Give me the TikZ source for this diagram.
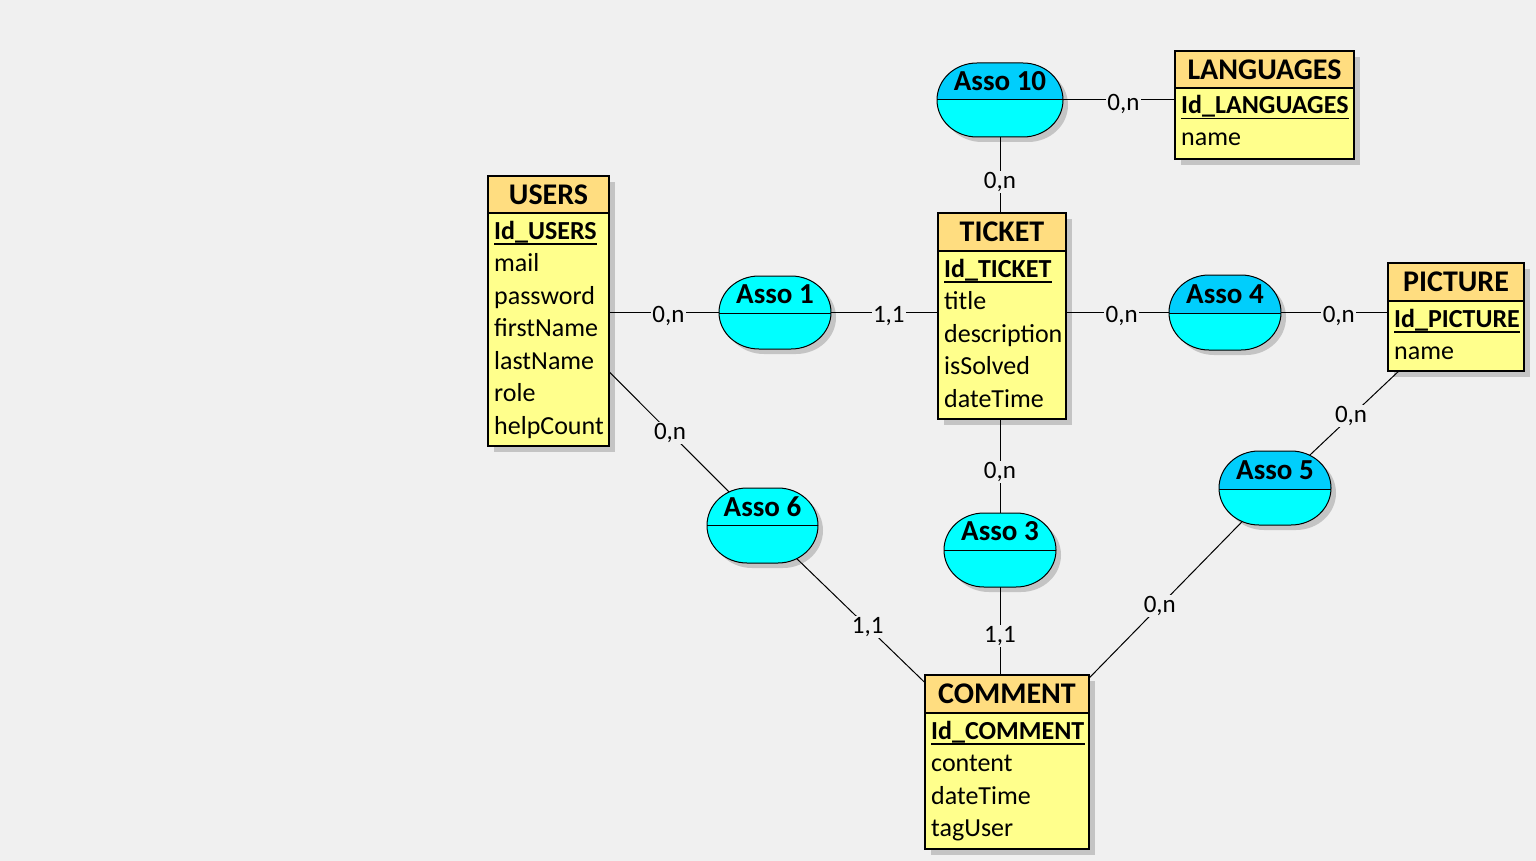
\documentclass[tikz,border=0pt]{standalone}
\usepackage{fontspec}
\setmainfont{Carlito}
\definecolor{bg}{RGB}{240,240,240}
\definecolor{headc}{RGB}{255,221,128}
\definecolor{bodyc}{RGB}{255,255,140}
\definecolor{shadc}{RGB}{196,196,196}
\definecolor{assoc}{RGB}{0,255,255}
\definecolor{assosel}{RGB}{0,206,252}
\tikzset{
  conn/.style={draw=black, line width=1pt},
  card/.style={fill=bg, inner sep=1.5pt, font=\fontsize{25}{30}\selectfont},
  hcard/.style={card, pos=0.54, yshift=-3.5pt},
  entline/.style={draw=black, line width=1.2pt},
  titlefont/.style={inner sep=0pt, font=\fontsize{30}{36}\selectfont\bfseries},
  attr/.style={anchor=base west, inner sep=0pt, font=\fontsize{26}{31}\selectfont},
  idattr/.style={attr, font=\fontsize{26}{31}\selectfont\bfseries},
  assolabel/.style={inner sep=0pt, font=\fontsize{29}{34}\selectfont\bfseries},
  hook/.style={inner sep=0pt, outer sep=0pt}
}
% invisible node used for connections: name, l, t, r, b
\newcommand\hooknode[5]{\node[hook, minimum width={#4-#2}, minimum height={#5-#3}] (#1) at ({(#2+#4)/2},{(#3+#5)/2}) {};}
% entity shadow: l, t, r, b
\newcommand\entshadow[4]{\fill[shadc] (#1+6,#2+6) rectangle (#3+6,#4+6);}
% entity drawing: l, t, r, hb, b, title, title node name
\newcommand\drawentity[7]{%
  \fill[bodyc] (#1,#2) rectangle (#3,#5);
  \fill[headc] (#1,#2) rectangle (#3,#4);
  \draw[entline] (#1,#4) -- (#3,#4);
  \draw[entline] (#1,#2) rectangle (#3,#5);
  \node[titlefont] (#7) at ({(#1+#3)/2},{(#2+#4)/2}) {#6};
}
% association outline path (oval with flat top and bottom): l, t, r, b
\newcommand\assoshape[4]{(#1+40,#2) -- (#3-40,#2)
  arc[start angle=-90, end angle=90, x radius=40, y radius={(#4-#2)/2}] -- (#1+40,#4)
  arc[start angle=90, end angle=270, x radius=40, y radius={(#4-#2)/2}] -- cycle}
% association shadow: l, t, r, b
\newcommand\assoshadow[4]{%
  \begin{scope}[shift={(5,5)}]
    \fill[shadc] \assoshape{#1}{#2}{#3}{#4};
  \end{scope}}
% association drawing: l, t, r, b, mid, label, top colour, label node name
\newcommand\drawasso[8]{%
  \begin{scope}
    \clip \assoshape{#1}{#2}{#3}{#4};
    \fill[#7] (#1-2,#2-2) rectangle (#3+2,#5);
    \fill[assoc] (#1-2,#5) rectangle (#3+2,#4+2);
  \end{scope}
  \draw[line width=1pt] (#1,#5) -- (#3,#5);
  \draw[line width=1pt] \assoshape{#1}{#2}{#3}{#4};
  \node[assolabel] (#8) at ({(#1+#3)/2},{(#2+#5)/2}) {#6};
}
\begin{document}
\begin{tikzpicture}[x=1pt,y=-1pt]
\fill[bg] (0,0) rectangle (1536,861);
\useasboundingbox (0,0) rectangle (1536,861);

% connection nodes
\hooknode{users}{488}{176}{609}{446}
\hooknode{ticket}{938}{213}{1066}{419}
\hooknode{lang}{1175}{51}{1354}{159}
\hooknode{picture}{1388}{263}{1524}{371}
\hooknode{comment}{925}{675}{1089}{849}
\hooknode{a1}{719}{276}{831}{349}
\hooknode{a10}{937}{63}{1063}{137}
\hooknode{a4}{1169}{275}{1281}{350}
\hooknode{a5}{1219}{451}{1331}{525}
\hooknode{a6}{707}{488}{818}{563}
\hooknode{a3}{944}{513}{1056}{587}

% shadows
\entshadow{488}{176}{609}{446}
\entshadow{938}{213}{1066}{419}
\entshadow{1175}{51}{1354}{159}
\entshadow{1388}{263}{1524}{371}
\entshadow{925}{675}{1089}{849}
\assoshadow{719}{276}{831}{349}
\assoshadow{937}{63}{1063}{137}
\assoshadow{1169}{275}{1281}{350}
\assoshadow{1219}{451}{1331}{525}
\assoshadow{707}{488}{818}{563}
\assoshadow{944}{513}{1056}{587}

% connectors
\draw[conn] (users.east |- a1.west) -- node[hcard] (c1) {0,n} (a1.west);
\draw[conn] (a1.east) -- node[hcard] (c2) {1,1} (ticket.west |- a1.east);
\draw[conn] (ticket.east |- a4.west) -- node[hcard] (c3) {0,n} (a4.west);
\draw[conn] (a4.east) -- node[hcard] (c4) {0,n} (picture.west |- a4.east);
\draw[conn] (a10.east) -- node[hcard] (c5) {0,n} (lang.west |- a10.east);
\draw[conn] (a10.south) -- node[card, pos=0.59] (c6) {0,n} (ticket.north -| a10.south);
\draw[conn] (ticket.south -| a3.north) -- node[card, pos=0.565] (c7) {0,n} (a3.north);
\draw[conn] (a3.south) -- node[card, pos=0.56] (c8) {1,1} (comment.north -| a3.south);
\draw[conn] (users.center) -- node[card, pos=0.568] (c9) {0,n} (a6.center);
\draw[conn] (a6.center) -- node[card, pos=0.43] (c10) {1,1} (comment.center);
\draw[conn] (comment.center) -- node[card, pos=0.57] (c11) {0,n} (a5.center);
\draw[conn] (a5.center) -- node[card, pos=0.42] (c12) {0,n} (picture.center);

% USERS
\drawentity{488}{176}{609}{213}{446}{USERS}{usersT}
\node[idattr] (u0) at (494,239) {Id\_USERS};
\draw[line width=1.2pt] ([yshift=-5pt]u0.base west) -- ([yshift=-5pt]u0.base east);
\node[attr] (u1) at (494,271.5) {mail};
\node[attr] (u2) at (494,304) {password};
\node[attr] (u3) at (494,336.5) {firstName};
\node[attr] (u4) at (494,369) {lastName};
\node[attr] (u5) at (494,401.5) {role};
\node[attr] (u6) at (494,434) {helpCount};

% TICKET
\drawentity{938}{213}{1066}{251}{419}{TICKET}{ticketT}
\node[idattr] (t0) at (944,277) {Id\_TICKET};
\draw[line width=1.2pt] ([yshift=-5pt]t0.base west) -- ([yshift=-5pt]t0.base east);
\node[attr] (t1) at (944,309.5) {title};
\node[attr] (t2) at (944,342) {description};
\node[attr] (t3) at (944,374.5) {isSolved};
\node[attr] (t4) at (944,407) {dateTime};

% LANGUAGES
\drawentity{1175}{51}{1354}{88}{159}{LANGUAGES}{langT}
\node[idattr] (l0) at (1181,113.5) {Id\_LANGUAGES};
\draw[line width=1.2pt] ([yshift=-5pt]l0.base west) -- ([yshift=-5pt]l0.base east);
\node[attr] (l1) at (1181,146) {name};

% PICTURE
\drawentity{1388}{263}{1524}{301}{371}{PICTURE}{pictureT}
\node[idattr] (p0) at (1394,327) {Id\_PICTURE};
\draw[line width=1.2pt] ([yshift=-5pt]p0.base west) -- ([yshift=-5pt]p0.base east);
\node[attr] (p1) at (1394,359.5) {name};

% COMMENT
\drawentity{925}{675}{1089}{713}{849}{COMMENT}{commentT}
\node[idattr] (m0) at (931,739) {Id\_COMMENT};
\draw[line width=1.2pt] ([yshift=-5pt]m0.base west) -- ([yshift=-5pt]m0.base east);
\node[attr] (m1) at (931,771.5) {content};
\node[attr] (m2) at (931,804) {dateTime};
\node[attr] (m3) at (931,836.5) {tagUser};

% associations
\drawasso{719}{276}{831}{349}{313}{Asso 1}{assoc}{a1T}
\drawasso{937}{63}{1063}{137}{100}{Asso 10}{assosel}{a10T}
\drawasso{1169}{275}{1281}{350}{313}{Asso 4}{assosel}{a4T}
\drawasso{1219}{451}{1331}{525}{489}{Asso 5}{assosel}{a5T}
\drawasso{707}{488}{818}{563}{525}{Asso 6}{assoc}{a6T}
\drawasso{944}{513}{1056}{587}{550}{Asso 3}{assoc}{a3T}
\end{tikzpicture}
\end{document}
